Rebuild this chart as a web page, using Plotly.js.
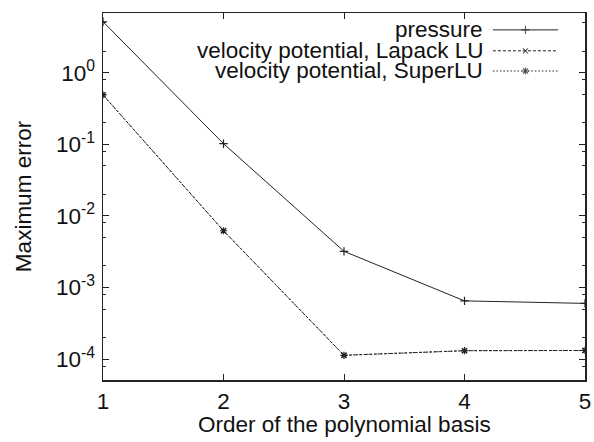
<!DOCTYPE html>
<html>
<head>
<meta charset="utf-8">
<script src="https://cdn.plot.ly/plotly-3.0.1.min.js"></script>
<style>html,body{margin:0;padding:0;background:#fff}#chart{width:594px;height:442px}</style>
</head>
<body>
<div id="chart"></div>
<script>
// ---- data ----
const orders = [1, 2, 3, 4, 5];
const pressure = [5.15, 0.102, 3.2e-3, 6.5e-4, 6.0e-4];
const velLapack = [0.49, 6.2e-3, 1.13e-4, 1.31e-4, 1.32e-4];
const velSuperLU = [0.49, 6.2e-3, 1.13e-4, 1.31e-4, 1.32e-4];
const seriesNames = ['pressure', 'velocity potential, Lapack LU', 'velocity potential, SuperLU'];
const xTitle = 'Order of the polynomial basis';
const yTitle = 'Maximum error';
const xTickVals = [1, 2, 3, 4, 5];
const yTickVals = [1e-4, 1e-3, 1e-2, 1e-1, 1];
const yTickText = ['10<sup>-4</sup>', '10<sup>-3</sup>', '10<sup>-2</sup>', '10<sup>-1</sup>', '10<sup>0</sup>'];
const yMinorVals = [];
for (let k = -5; k <= 0; k++) { [2, 5, 8].forEach(m => yMinorVals.push(m * Math.pow(10, k))); }

// ---- styles ----
const FONT = 'Liberation Sans, Arial, sans-serif';
const FS = 22.5;
const LC = '#222';
const styles = [
  {dash: 'solid', symbol: 'cross-thin', size: 6},
  {dash: '3px,2px', symbol: 'x-thin', size: 5},
  {dash: '1.5px,2px', symbol: 'asterisk', size: 6}
];
const ySeries = [pressure, velLapack, velSuperLU];

const traces = ySeries.map((ys, i) => ({
  x: orders, y: ys, type: 'scatter', mode: 'lines+markers',
  name: seriesNames[i], showlegend: false,
  line: {color: LC, width: 1, dash: styles[i].dash},
  marker: {symbol: styles[i].symbol, size: styles[i].size, color: LC, line: {color: LC, width: 1.2}}
}));

// custom legend (text right-aligned, sample on the right)
const legY = [0.954, 0.897, 0.842];
const annotations = seriesNames.map((n, i) => ({
  xref: 'paper', yref: 'paper', x: 0.793, y: legY[i], xanchor: 'right', yanchor: 'middle',
  text: n, showarrow: false, font: {family: FONT, size: FS, color: '#111'}
}));
annotations.push({
  xref: 'paper', yref: 'paper', x: 0.5, y: -0.12, xanchor: 'center', yanchor: 'middle',
  text: xTitle, showarrow: false, font: {family: FONT, size: FS, color: '#111'}
});
seriesNames.forEach((n, i) => {
  traces.push({
    x: [0.809, 0.8765, 0.944], y: [legY[i], legY[i], legY[i]], xaxis: 'x2', yaxis: 'y2',
    type: 'scatter', mode: 'lines+markers', showlegend: false, hoverinfo: 'skip',
    line: {color: LC, width: 1, dash: styles[i].dash},
    marker: {symbol: styles[i].symbol, size: [0, styles[i].size, 0], color: LC, line: {color: LC, width: 1.2}}
  });
});

const layout = {
  width: 594, height: 442,
  margin: {l: 103, r: 9, t: 13, b: 62},
  paper_bgcolor: '#fff', plot_bgcolor: '#fff',
  font: {family: FONT, size: FS, color: '#111'},
  showlegend: false,
  xaxis: {
    range: [1, 5], tickmode: 'array', tickvals: xTickVals,
    ticks: 'inside', ticklen: 6, tickwidth: 1, tickcolor: LC,
    showline: true, linecolor: LC, linewidth: 1.5, mirror: 'ticks',
    showgrid: false, zeroline: false, ticklabelstandoff: 0, automargin: false,
    tickfont: {family: FONT, size: FS, color: '#111'}
  },
  yaxis: {
    type: 'log', range: [-4.292, 0.834], tickmode: 'array', tickvals: yTickVals, ticktext: yTickText,
    ticks: 'inside', ticklen: 6, tickwidth: 1, tickcolor: LC,
    minor: {tickmode: 'array', tickvals: yMinorVals, ticks: 'inside', ticklen: 3, tickwidth: 1, tickcolor: LC, showgrid: false},
    showline: true, linecolor: LC, linewidth: 1.5, mirror: 'ticks',
    showgrid: false, zeroline: false, ticklabelstandoff: 2, automargin: false,
    tickfont: {family: FONT, size: FS, color: '#111'},
    title: {text: yTitle, font: {family: FONT, size: FS, color: '#111'}, standoff: 18}
  },
  xaxis2: {overlaying: 'x', range: [0, 1], visible: false, fixedrange: true},
  yaxis2: {overlaying: 'y', range: [0, 1], visible: false, fixedrange: true},
  annotations: annotations
};

Plotly.newPlot('chart', traces, layout, {displayModeBar: false, staticPlot: true});
</script>
</body>
</html>
